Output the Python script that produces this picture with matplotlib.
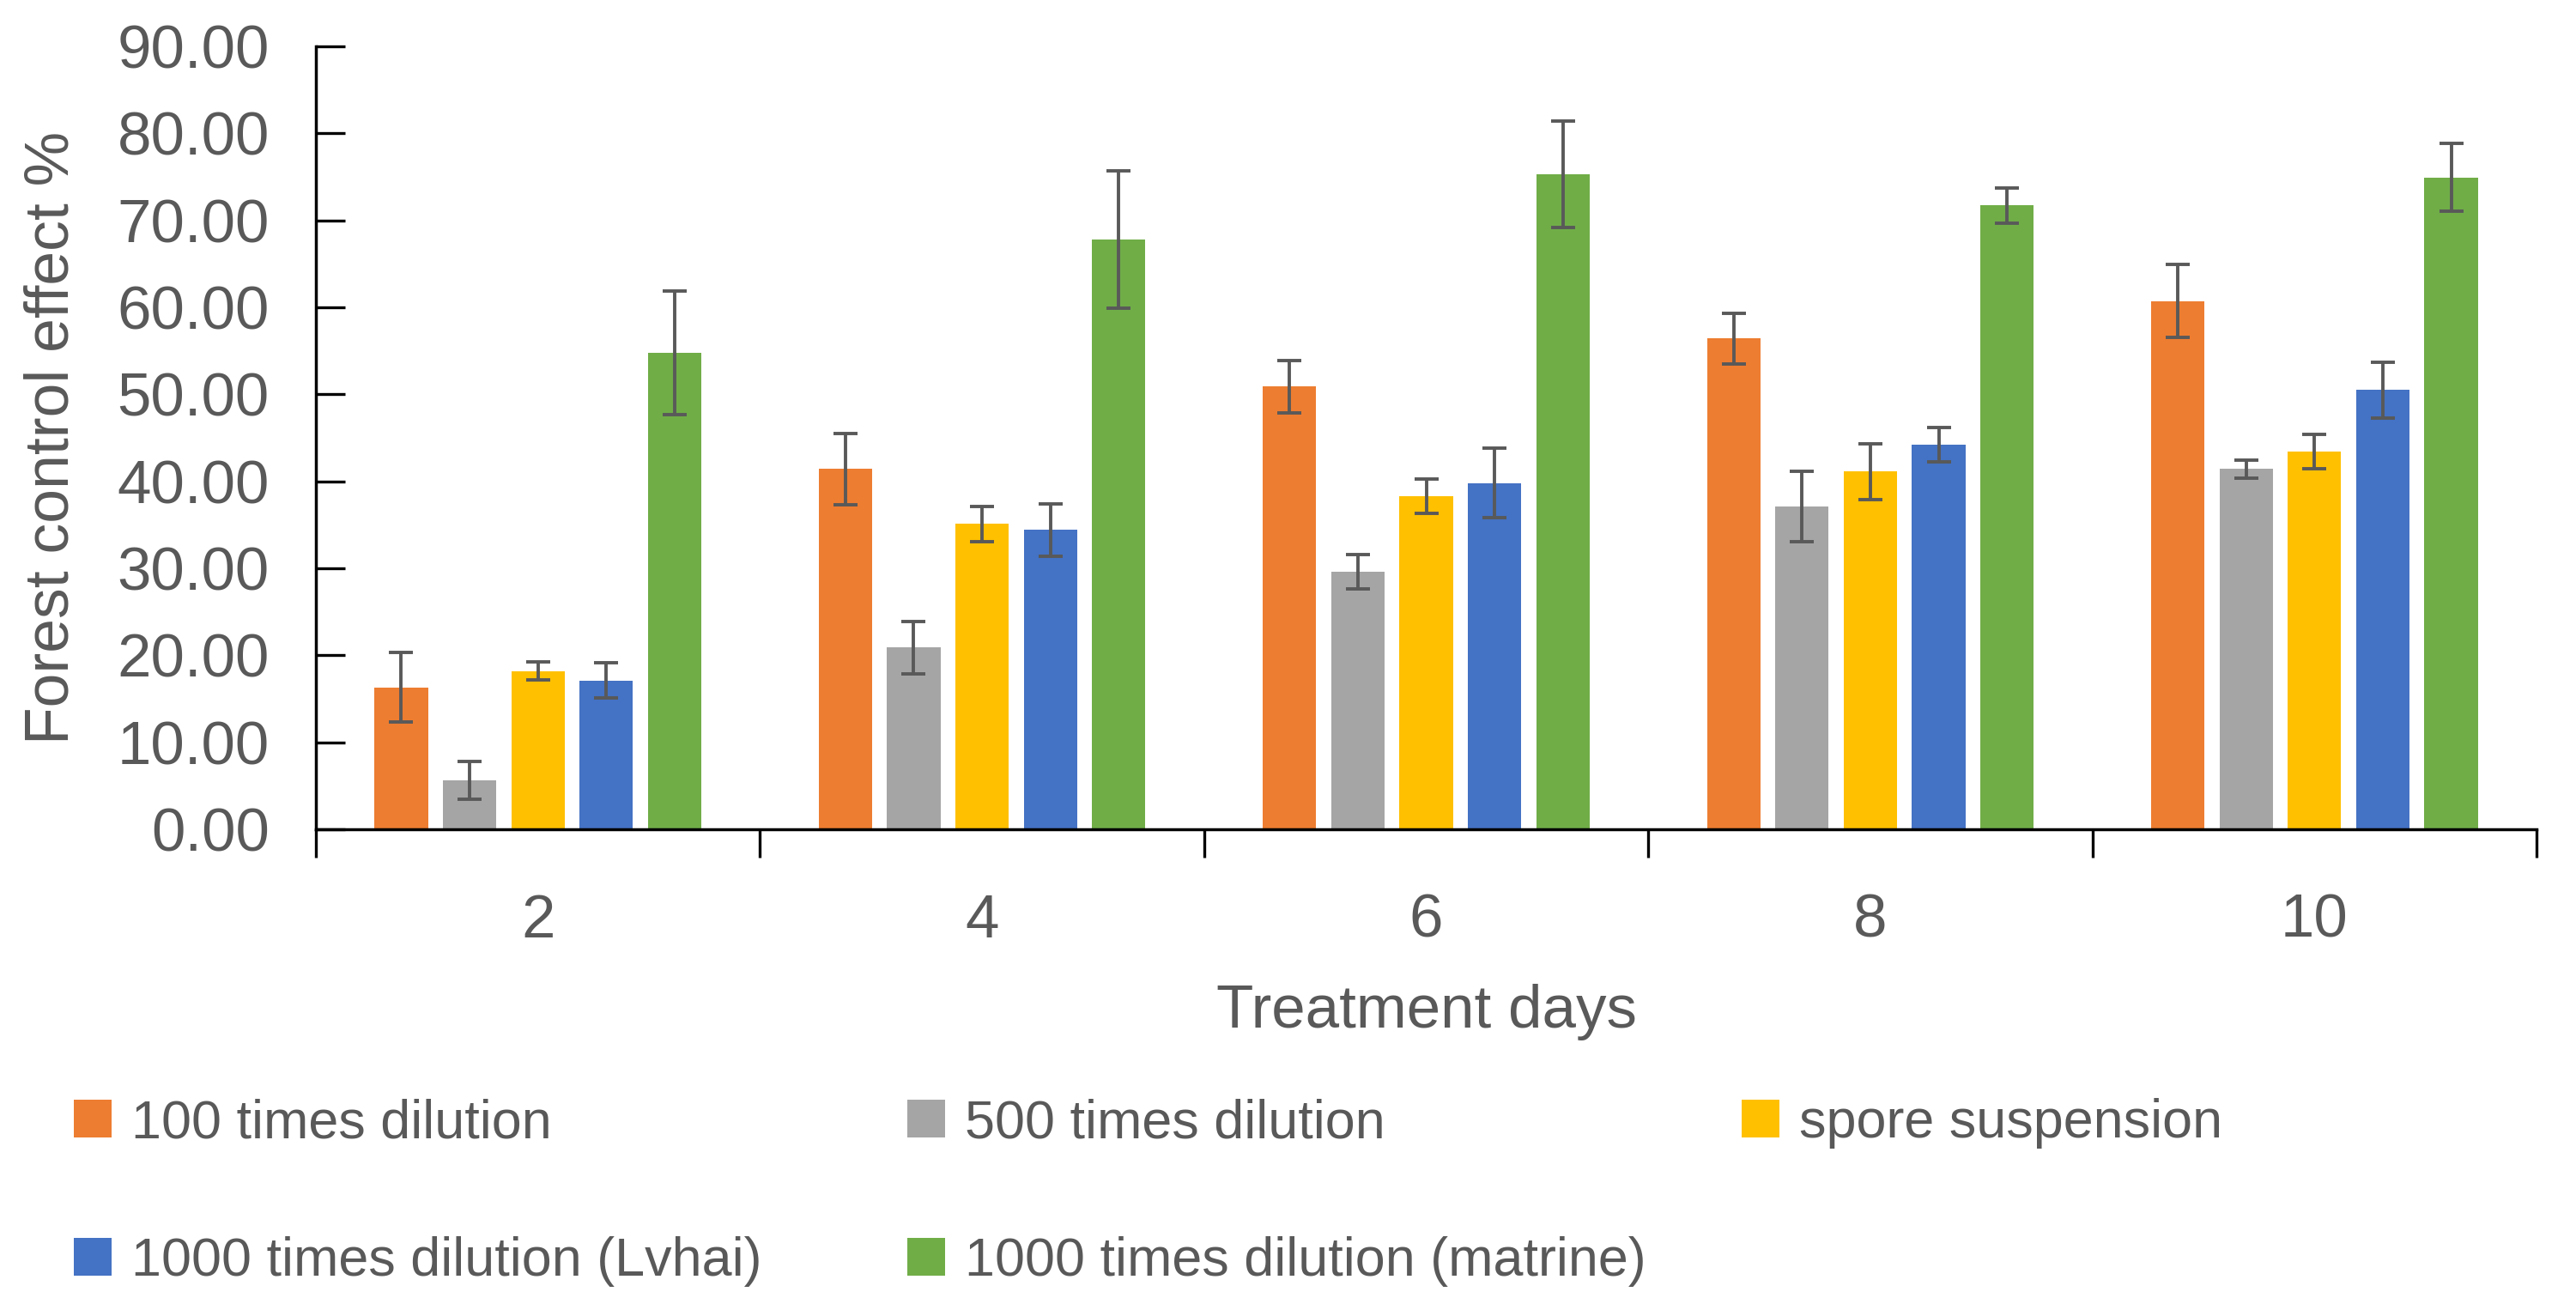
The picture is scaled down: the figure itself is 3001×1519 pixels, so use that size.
import matplotlib
matplotlib.use("Agg")
import matplotlib.pyplot as plt
import numpy as np
from matplotlib.ticker import FormatStrFormatter, FixedLocator

plt.rcParams['font.family'] = ['Liberation Sans', 'DejaVu Sans']

days = ['2', '4', '6', '8', '10']
series_names = ['100 times dilution', '500 times dilution', 'spore suspension',
                '1000 times dilution (Lvhai)', '1000 times dilution (matrine)']
colors = ['#ED7D31', '#A5A5A5', '#FFC000', '#4472C4', '#70AD47']

dil_100 = [16.3, 41.4, 50.9, 56.4, 60.7]
dil_500 = [5.6, 20.9, 29.6, 37.1, 41.4]
spore = [18.2, 35.1, 38.3, 41.1, 43.4]
lvhai = [17.1, 34.4, 39.8, 44.2, 50.5]
matrine = [54.8, 67.8, 75.3, 71.7, 74.9]

err_100 = [4.0, 4.1, 3.0, 2.9, 4.2]
err_500 = [2.2, 3.0, 2.0, 4.0, 1.0]
err_spore = [1.0, 2.0, 2.0, 3.2, 2.0]
err_lvhai = [2.0, 3.0, 4.0, 2.0, 3.2]
err_matrine = [7.1, 7.9, 6.1, 2.0, 3.9]

values = [dil_100, dil_500, spore, lvhai, matrine]
errors = [err_100, err_500, err_spore, err_lvhai, err_matrine]

text_color = '#595959'

fig = plt.figure(figsize=(30.01, 15.19), dpi=100)
ax = fig.add_axes([0.1226, 0.3641, 0.8621, 0.6004])

x = np.arange(len(days))
pitch = 0.1538
width = 0.12
handles = []
for i, (vals, errs) in enumerate(zip(values, errors)):
    b = ax.bar(x + (i - 2) * pitch, vals, width, color=colors[i], label=series_names[i],
               yerr=errs, error_kw=dict(ecolor=text_color, elinewidth=2.8, capsize=10, capthick=2.8),
               zorder=2)
    handles.append(b)

ax.set_xlim(-0.5, len(days) - 0.5)
ax.set_ylim(0, 90)
ax.set_yticks(np.arange(0, 91, 10))
ax.yaxis.set_major_formatter(FormatStrFormatter('%.2f'))

ax.set_xticks(x)
ax.set_xticklabels(days)
ax.xaxis.set_minor_locator(FixedLocator(np.arange(-0.5, len(days), 1.0)))

for side in ['top', 'right']:
    ax.spines[side].set_visible(False)
for side in ['left', 'bottom']:
    ax.spines[side].set_linewidth(2.5)
    ax.spines[side].set_color('black')

ax.tick_params(axis='y', direction='in', length=24.5, width=2.4, colors='black',
               labelcolor=text_color, labelsize=51, pad=39)
ax.tick_params(axis='x', which='major', length=0, labelcolor=text_color, labelsize=51, pad=54)
ax.tick_params(axis='x', which='minor', direction='out', length=24, width=2.4, color='black')

ax.set_ylabel('Forest control effect %', fontsize=51.5, color=text_color, labelpad=30)
ax.set_xlabel('Treatment days', fontsize=51, color=text_color, labelpad=28)

# legend laid out row by row like the original
leg_pos = [(0.0287, 0.1385), (0.3522, 0.1385), (0.6761, 0.1385),
           (0.0287, 0.0325), (0.3522, 0.0325)]
for h, name, pos in zip(handles, series_names, leg_pos):
    fig.legend(handles=[h[0]], labels=[name], loc='center left', bbox_to_anchor=pos,
               frameon=False, borderpad=0, borderaxespad=0, fontsize=45.3,
               handlelength=0.70, handleheight=0.70, handletextpad=0.36,
               labelcolor=text_color)

fig.savefig('out.png', dpi=100)
